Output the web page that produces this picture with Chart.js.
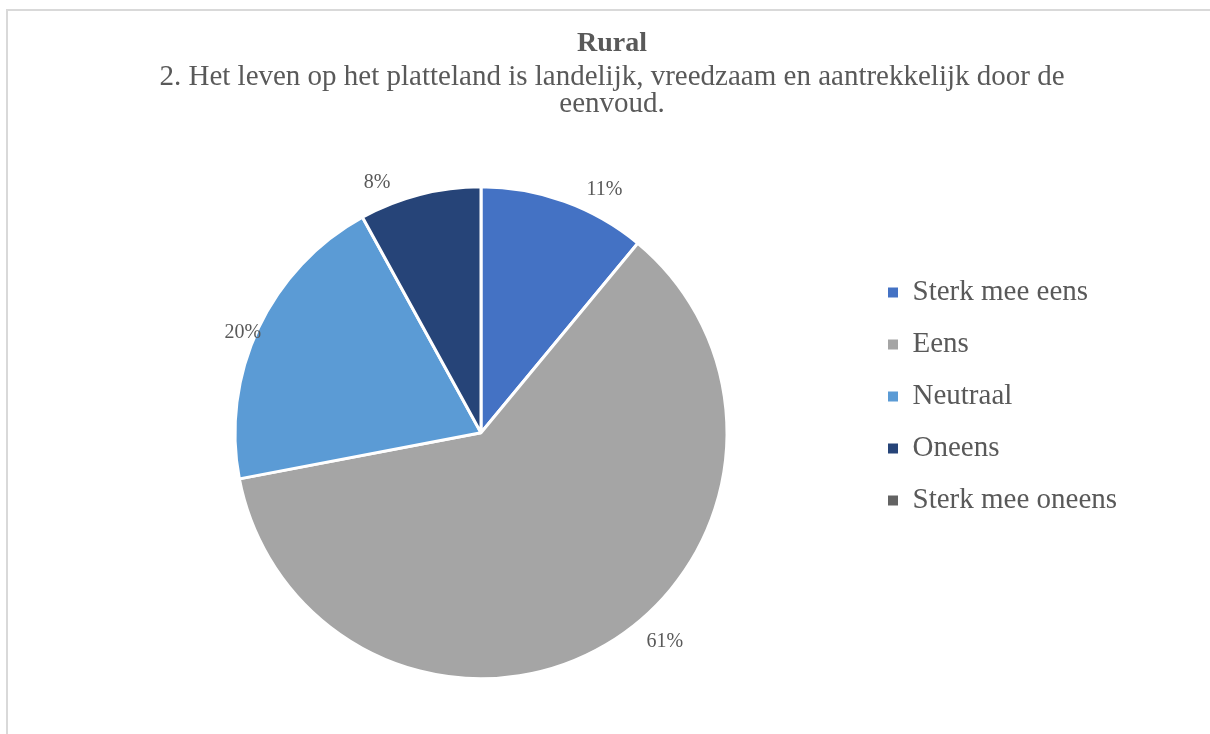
<!DOCTYPE html>
<html lang="nl">
<head>
<meta charset="utf-8">
<title>Rural</title>
<script src="https://cdn.jsdelivr.net/npm/chart.js@4.4.1/dist/chart.umd.min.js"></script>
<style>
  html, body { margin: 0; padding: 0; background: #fff; overflow: hidden; }
  #kader { position: absolute; left: 6px; top: 9px; width: 1300px; height: 800px; border-left: 2px solid #d9d9d9; border-top: 2px solid #d9d9d9; }
  #grafiek { position: absolute; left: 0; top: 0; }
</style>
</head>
<body>
<div id="kader"></div>
<canvas id="grafiek" width="1210" height="734"></canvas>
<script>
const CATEGORIEEN = ['Sterk mee eens', 'Eens', 'Neutraal', 'Oneens', 'Sterk mee oneens'];
const PERCENTAGES = [11, 61, 20, 8, 0];
const KLEUREN = ['#4472C4', '#A5A5A5', '#5B9BD5', '#264478', '#636363'];
const TITEL = 'Rural';
const ONDERTITEL = ['2. Het leven op het platteland is landelijk, vreedzaam en aantrekkelijk door de', 'eenvoud.'];

const TEKSTKLEUR = '#595959';
const LETTER = '"Liberation Serif", "Times New Roman", serif';

// percentages buiten de taartpunten, per punt iets verdraaid zoals in Excel
const percentageLabels = {
    id: 'percentageLabels',
    afterDatasetsDraw(chart, args, opts) {
        const ctx = chart.ctx;
        const meta = chart.getDatasetMeta(0);
        ctx.save();
        ctx.font = `${opts.grootte}px ${LETTER}`;
        ctx.fillStyle = TEKSTKLEUR;
        ctx.textAlign = 'center';
        ctx.textBaseline = 'middle';
        meta.data.forEach((arc, i) => {
            const waarde = PERCENTAGES[i];
            if (!waarde) return;
            const { x, y, startAngle, endAngle, outerRadius } = arc.getProps(['x', 'y', 'startAngle', 'endAngle', 'outerRadius'], true);
            const hoek = (startAngle + endAngle) / 2 + opts.draai[i] * Math.PI / 180;
            const r = outerRadius + opts.afstand[i];
            ctx.fillText(`${waarde}%`, x + Math.cos(hoek) * r, y + Math.sin(hoek) * r + 2);
        });
        ctx.restore();
    }
};

// legenda staat iets hoger dan het midden van de taart
const legendaVerschuiving = {
    id: 'legendaVerschuiving',
    afterLayout(chart, args, opts) {
        const legenda = chart.legend;
        if (!legenda) return;
        legenda.top += opts.dy; legenda.bottom += opts.dy;
        legenda.left += opts.dx; legenda.right += opts.dx;
    }
};

new Chart(document.getElementById('grafiek'), {
    type: 'pie',
    data: {
        labels: CATEGORIEEN,
        datasets: [{
            data: PERCENTAGES,
            backgroundColor: KLEUREN,
            borderColor: '#ffffff',
            borderWidth: 3
        }]
    },
    options: {
        responsive: false,
        animation: false,
        events: [],
        radius: 246,
        layout: { padding: { left: 95, right: 81, top: 0, bottom: 57 } },
        plugins: {
            title: {
                display: true,
                text: TITEL,
                color: TEKSTKLEUR,
                font: { family: LETTER, size: 28, weight: 'bold' },
                padding: { top: 27, bottom: 0 }
            },
            subtitle: {
                display: true,
                text: ONDERTITEL,
                color: TEKSTKLEUR,
                font: { family: LETTER, size: 29, weight: 'normal', lineHeight: '27px' },
                padding: { top: 3, bottom: 71 }
            },
            legend: {
                position: 'right',
                align: 'center',
                maxWidth: 262,
                labels: {
                    color: TEKSTKLEUR,
                    font: { family: LETTER, size: 29 },
                    boxWidth: 10,
                    boxHeight: 10,
                    padding: 23,
                    generateLabels(chart) {
                        return Chart.overrides.pie.plugins.legend.labels.generateLabels(chart)
                            .map(item => ({ ...item, lineWidth: 0 }));
                    }
                }
            },
            tooltip: { enabled: false },
            legendaVerschuiving: { dx: -2, dy: 58 },
            percentageLabels: {
                grootte: 20,
                draai: [7, -11, -2, -8, 0],
                afstand: [28, 31, 13, 27, 0]
            }
        }
    },
    plugins: [legendaVerschuiving, percentageLabels]
});
</script>
</body>
</html>
